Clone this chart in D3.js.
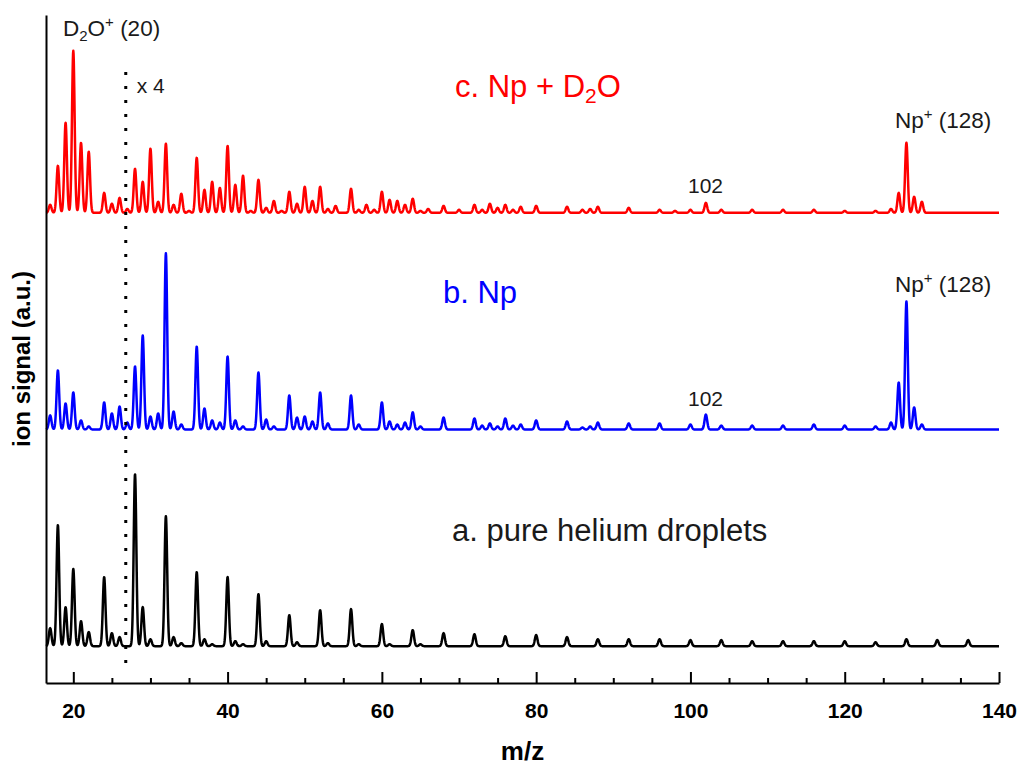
<!DOCTYPE html>
<html>
<head>
<meta charset="utf-8">
<script src="https://cdn.jsdelivr.net/npm/d3@7/dist/d3.min.js"></script>
<style>
  html, body { margin: 0; padding: 0; background: #fff; }
  svg { display: block; font-family: "Liberation Sans", Arial, sans-serif; }
</style>
</head>
<body>
<svg id="chart" width="1022" height="767"></svg>
<script>
// Peak positions (m/z) and peak heights (a.u.) for each mass spectrum.
// Heights to the right of the dotted line are shown magnified x4.
const pureHeMz = [17,18,19,20,21,22,24,25,26,28,29,30,32,33,34,36,37,38,40,41,42,44,45,48,49,52,53,56,57,60,61,64,65,68,72,76,80,84,88,92,96,100,104,108,112,116,120,124,128,132,136];
const pureHeSignal = [8.3,55.9,18.0,35.6,11.5,6.5,31.9,6.0,4.2,79.4,18.0,3.2,60.0,4.2,1.4,34.2,3.2,0.9,31.9,2.3,0.9,24.0,2.3,14.3,1.8,16.6,1.4,17.1,0.9,10.2,0.9,7.4,0.9,6.0,5.5,4.6,5.1,4.2,3.2,3.2,3.2,2.8,2.8,2.3,2.3,2.3,2.3,1.8,3.2,2.8,2.8];

const npMz = [17,18,19,20,21,22,24,25,26,27,28,29,30,31,32,33,34,36,37,38,39,40,41,42,44,45,46,48,49,50,51,52,53,56,57,60,61,62,63,64,65,68,72,73,74,75,76,77,78,80,84,86,87,88,92,96,100,102,104,108,112,116,120,124,126,127,128,129,130];
const npSignal = [6.5,27.3,12.0,17.1,4.2,1.4,12.5,7.4,10.6,3.2,29.1,43.4,6.0,7.4,81.3,8.3,2.3,38.3,9.7,4.2,3.2,33.7,4.2,1.4,26.3,4.6,1.4,15.7,5.5,6.0,3.7,17.1,2.8,15.7,2.3,12.5,3.7,2.3,3.2,7.9,1.4,5.5,5.1,1.8,2.8,1.4,5.1,1.8,2.3,4.2,3.7,0.9,1.4,3.2,2.8,2.8,2.3,6.9,1.8,1.8,1.8,2.3,1.8,1.4,3.2,21.7,59.1,10.2,2.3];

const npD2oMz = [17,18,19,20,21,22,24,25,26,27,28,29,30,31,32,33,34,35,36,37,38,39,40,41,42,43,44,45,46,47,48,49,50,51,52,53,54,56,57,58,59,60,61,62,63,64,65,66,68,70,72,73,74,75,76,77,78,80,84,86,87,88,92,96,98,100,102,104,108,112,116,120,124,126,127,128,129,130];
const npD2oSignal = [3.7,21.7,41.6,74.8,32.3,28.2,9.2,4.2,6.9,1.8,20.3,14.3,29.6,5.1,31.9,3.7,8.8,0.9,25.4,10.6,14.3,11.5,30.9,12.9,17.1,0.9,15.2,2.3,5.5,0.9,9.7,4.2,12.0,5.5,12.0,1.8,3.2,11.1,1.4,3.7,1.4,9.7,6.0,5.5,3.7,6.5,0.9,1.8,3.2,1.4,3.7,1.4,4.2,2.3,3.7,1.4,2.8,3.2,2.8,1.4,1.8,2.8,2.3,1.4,0.9,1.4,4.6,1.4,1.4,1.4,1.4,0.9,0.9,1.8,9.2,32.3,7.4,5.1];

// Vertical offsets stacking the three spectra
const spectra = [
  { mz: pureHeMz, signal: pureHeSignal, offset: 0,   color: "#000000" },
  { mz: npMz,     signal: npSignal,     offset: 100, color: "#0000ff" },
  { mz: npD2oMz,  signal: npD2oSignal,  offset: 200, color: "#ff0000" }
];

const majorTicks = [20, 40, 60, 80, 100, 120, 140];
const minorTicks = [25, 30, 35, 45, 50, 55, 65, 70, 75, 85, 90, 95, 105, 110, 115, 125, 130, 135];
const mzRange = [16.46, 140];
const magnifyFrom = 26.8;   // m/z where the x4 magnification starts

const svg = d3.select("#chart");
const plotLeft = 46, plotRight = 999, plotTop = 15, plotBottom = 683;

const x = d3.scaleLinear().domain(mzRange).range([plotLeft, plotRight]);
const y = d3.scaleLinear().domain([-17, 291.3]).range([plotBottom, plotTop]);

// Peak profile: each peak is a narrow Gaussian of the instrument resolution
const peakWidth = 0.17;
function profile(mzArr, sigArr) {
  const pts = [];
  for (let m = mzRange[0]; m <= mzRange[1] + 1e-9; m += 0.03) {
    let s = 0;
    for (let i = 0; i < mzArr.length; i++) {
      const d = (m - mzArr[i]) / peakWidth;
      if (Math.abs(d) < 6) s += sigArr[i] * Math.exp(-0.5 * d * d);
    }
    pts.push([m, s]);
  }
  return pts;
}

const line = d3.line().x(d => x(d[0])).y(d => y(d[1]));

// Traces
spectra.forEach(sp => {
  const pts = profile(sp.mz, sp.signal).map(d => [d[0], d[1] + sp.offset]);
  svg.append("path")
    .datum(pts)
    .attr("fill", "none")
    .attr("stroke", sp.color)
    .attr("stroke-width", 2.5)
    .attr("stroke-linejoin", "round")
    .attr("d", line);
});

// Dotted line marking the start of the x4 region
svg.append("line")
  .attr("x1", x(magnifyFrom)).attr("x2", x(magnifyFrom))
  .attr("y1", y(265)).attr("y2", y(-10))
  .attr("stroke", "#000")
  .attr("stroke-width", 3)
  .attr("stroke-dasharray", "3,11");

svg.append("text")
  .attr("x", x(magnifyFrom) + 11).attr("y", 93)
  .attr("font-size", 21).attr("fill", "#1a1a1a")
  .text("x 4");

// Axes
const gx = svg.append("g").attr("transform", `translate(0,${plotBottom})`);
gx.call(d3.axisBottom(x).tickValues(minorTicks).tickSize(-5).tickSizeOuter(0).tickFormat(""));
gx.call(g => g.select(".domain").remove());
const gxMajor = svg.append("g").attr("transform", `translate(0,${plotBottom})`)
  .call(d3.axisBottom(x).tickValues(majorTicks).tickSize(-11).tickSizeOuter(0).tickPadding(20));
svg.selectAll(".tick line").attr("stroke-width", 2);
gxMajor.select(".domain").attr("stroke-width", 2);
gxMajor.selectAll(".tick text")
  .attr("font-size", 21).attr("font-weight", "bold")
  .attr("font-family", "'Liberation Sans', Arial, sans-serif")
  .attr("fill", "#000");

const gy = svg.append("g").attr("transform", `translate(${plotLeft},0)`)
  .call(d3.axisLeft(y).tickValues([]).tickSizeOuter(0));
gy.select(".domain").attr("stroke-width", 2);

// Axis titles
svg.append("text")
  .attr("x", (plotLeft + plotRight) / 2).attr("y", 760)
  .attr("text-anchor", "middle")
  .attr("font-size", 26).attr("font-weight", "bold")
  .text("m/z");

svg.append("text")
  .attr("transform", `translate(30,${(plotTop + plotBottom) / 2 + 10}) rotate(-90)`)
  .attr("text-anchor", "middle")
  .attr("font-size", 24).attr("font-weight", "bold")
  .text("ion signal (a.u.)");

// Spectrum labels
svg.append("text").attr("x", 455).attr("y", 97).attr("font-size", 31).attr("fill", "#ff0000")
  .call(t => {
    t.append("tspan").text("c. Np + D");
    t.append("tspan").attr("font-size", 21).attr("dy", 6).text("2");
    t.append("tspan").attr("dy", -6).text("O");
  });
svg.append("text").attr("x", 443).attr("y", 303).attr("font-size", 31).attr("fill", "#0000ff")
  .text("b. Np");
svg.append("text").attr("x", 452).attr("y", 541).attr("font-size", 31).attr("fill", "#1a1a1a")
  .text("a. pure helium droplets");

// Peak annotations
function ionLabel(xp, yp, base, sup, rest) {
  const t = svg.append("text").attr("x", xp).attr("y", yp).attr("font-size", 22.5).attr("fill", "#1a1a1a");
  t.append("tspan").text(base);
  t.append("tspan").attr("font-size", 15).attr("dy", -9).text(sup);
  t.append("tspan").attr("dy", 9).text(rest);
  return t;
}
ionLabel(895, 128, "Np", "+", " (128)");
ionLabel(895, 292, "Np", "+", " (128)");

svg.append("text").attr("x", 688).attr("y", 193).attr("font-size", 21).attr("fill", "#1a1a1a").text("102");
svg.append("text").attr("x", 688).attr("y", 406).attr("font-size", 21).attr("fill", "#1a1a1a").text("102");

const d2o = svg.append("text").attr("x", 63).attr("y", 36).attr("font-size", 22.5).attr("fill", "#1a1a1a");
d2o.append("tspan").text("D");
d2o.append("tspan").attr("font-size", 15).attr("dy", 5).text("2");
d2o.append("tspan").attr("dy", -5).text("O");
d2o.append("tspan").attr("font-size", 15).attr("dy", -9).text("+");
d2o.append("tspan").attr("dy", 9).text(" (20)");
</script>
</body>
</html>
